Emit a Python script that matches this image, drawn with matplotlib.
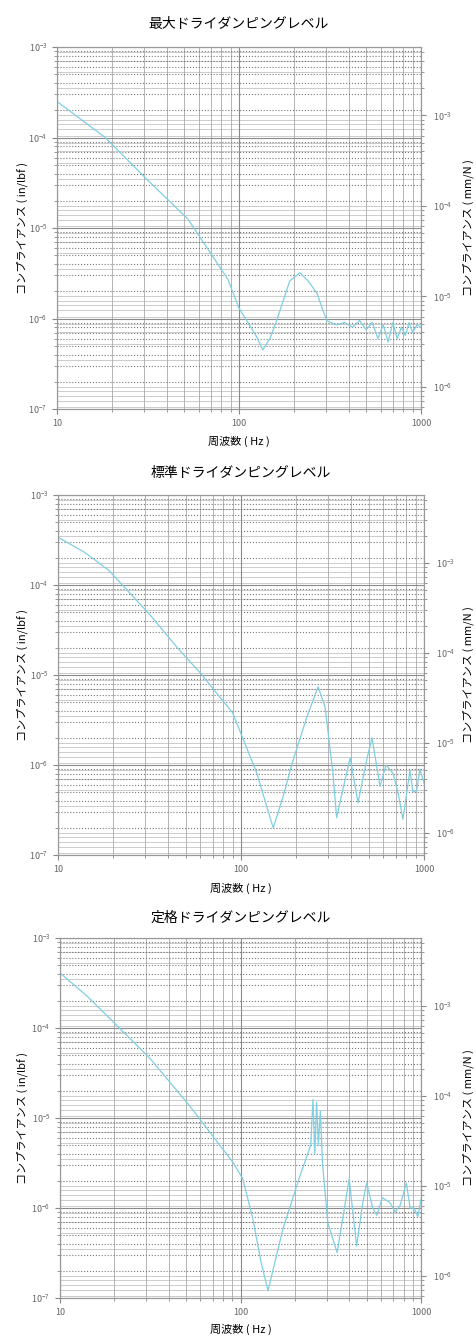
import matplotlib
matplotlib.use("Agg")
import matplotlib.pyplot as plt
from matplotlib.ticker import FixedLocator, FixedFormatter, NullFormatter
import numpy as np

plt.rcParams['font.family'] = ['Noto Sans CJK JP', 'DejaVu Sans']

# conversion in/lbf -> mm/N
IN_LBF_TO_MM_N = 25.4 / 4.448

titles = ['最大ドライダンピングレベル', '標準ドライダンピングレベル', '定格ドライダンピングレベル']
xticks = [10, 100, 1000]
xticklabels = ['10', '100', '1000']

# panel 1 : max dry damping level
freq1 = [10, 18.4, 30.5, 52.5, 87, 100, 125, 135, 148, 161, 190, 216, 240, 268,
         303, 340, 380, 420, 460, 500, 540, 580, 620, 660, 700, 740, 780, 820, 860, 900, 950, 1000]
comp1 = [2.5e-4, 1.0e-4, 3.6e-5, 1.25e-5, 2.7e-6, 1.3e-6, 6.3e-7, 4.5e-7,
         6.0e-7, 9.5e-7, 2.6e-6, 3.2e-6, 2.6e-6, 1.9e-6, 9.5e-7, 8.5e-7, 9.0e-7, 8.0e-7, 9.5e-7,
         7.5e-7, 9.0e-7, 6.0e-7, 8.5e-7, 5.5e-7, 9.0e-7, 6.0e-7, 8.0e-7, 6.5e-7, 9.0e-7, 7.0e-7,
         8.5e-7, 8.0e-7]

# panel 2 : standard dry damping level
freq2 = [10, 14, 19, 32, 45, 60, 90, 122, 150, 170, 193, 230, 264, 288, 318, 333, 365, 395,
         436, 489, 520, 575, 620, 677, 720, 767, 838, 870, 912, 950, 1000]
comp2 = [3.4e-4, 2.3e-4, 1.45e-4, 4.6e-5, 2.0e-5, 1.05e-5, 3.8e-6, 8.1e-7, 2.0e-7, 4.5e-7,
         1.15e-6, 3.5e-6, 7.4e-6, 4.4e-6, 8.1e-7, 2.6e-7, 6.0e-7, 1.2e-6, 3.8e-7, 1.2e-6,
         2.0e-6, 5.8e-7, 1.0e-6, 8.1e-7, 5.0e-7, 2.5e-7, 8.7e-7, 5.0e-7, 5.2e-7, 9.0e-7, 6.3e-7]

# panel 3 : rated dry damping level
freq3 = [10, 14, 19, 31.5, 52.5, 91, 103, 117, 130, 142, 155, 172, 214, 245, 252, 258, 264,
         270, 277, 285, 305, 343, 370, 400, 440, 476, 500, 540, 570, 610, 673, 720, 766, 830,
         870, 915, 960, 1000]
comp3 = [4.1e-4, 2.3e-4, 1.26e-4, 4.6e-5, 1.35e-5, 3.2e-6, 2.1e-6, 7.6e-7, 2.5e-7, 1.2e-7,
         2.5e-7, 5.9e-7, 2.3e-6, 5.0e-6, 1.6e-5, 4.0e-6, 1.5e-5, 5.0e-6, 1.2e-5, 3.0e-6,
         6.8e-7, 3.2e-7, 8.0e-7, 2.1e-6, 3.8e-7, 1.15e-6, 1.9e-6, 1.0e-6, 8.3e-7, 1.3e-6,
         1.15e-6, 9.0e-7, 1.07e-6, 1.9e-6, 1.0e-6, 1.0e-6, 8.0e-7, 1.26e-6]

freqs = [freq1, freq2, freq3]
comps = [comp1, comp2, comp3]

ylim = (1e-7, 1e-3)
xlim = (10, 1000)

W, H = 476, 1336
fig = plt.figure(figsize=(W / 100, H / 100), dpi=100)

# axes boxes in pixels: left, top, right, bottom
boxes = [(57, 47, 421, 409), (58, 495, 424, 855), (60, 938, 421, 1298)]
title_y = [24, 473, 918]
xlabel_y = [441, 888, 1329]

for i in range(3):
    l, t, r, b = boxes[i]
    ax = fig.add_axes([l / W, 1 - b / H, (r - l) / W, (b - t) / H])
    ax.set_xscale('log')
    ax.set_yscale('log')
    ax.set_xlim(xlim)
    ax.set_ylim(ylim)
    ax.xaxis.set_major_locator(FixedLocator(xticks))
    ax.xaxis.set_major_formatter(FixedFormatter(xticklabels))
    ax.xaxis.set_minor_formatter(NullFormatter())

    ax2 = ax.twinx()
    ax2.set_yscale('log')
    ax2.set_ylim(ylim[0] * IN_LBF_TO_MM_N, ylim[1] * IN_LBF_TO_MM_N)
    ax2.grid(which='both', axis='y', color='#c4c4c4', lw=0.6)

    ax.grid(which='major', color='#8a8a8a', lw=0.8)
    ax.grid(which='minor', axis='x', color='#a8a8a8', lw=0.6)
    ax.grid(which='minor', axis='y', color='#777777', lw=0.8, ls=':')
    ax.set_zorder(ax2.get_zorder() + 1)
    ax.patch.set_visible(False)

    ax.plot(freqs[i], comps[i], color='#7fcfe2', lw=0.9)

    for a in (ax, ax2):
        a.tick_params(which='both', colors='#888888', labelcolor='#666666', labelsize=6.5)
        for s in a.spines.values():
            s.set_color('#999999')
    ax2.tick_params(axis='y', pad=5)

    cx = (l + r) / 2 / W
    cy = 1 - (t + b) / 2 / H
    fig.text(cx, 1 - title_y[i] / H, titles[i], ha='center', va='center', fontsize=10)
    fig.text(cx, 1 - xlabel_y[i] / H, '周波数 ( Hz )', ha='center', va='center', fontsize=8)
    fig.text(22 / W, cy, 'コンプライアンス ( in/lbf )', rotation=90, ha='center', va='center', fontsize=8)
    fig.text(468 / W, cy, 'コンプライアンス ( mm/N )', rotation=90, ha='center', va='center', fontsize=8)

fig.savefig('out.png', dpi=100)
